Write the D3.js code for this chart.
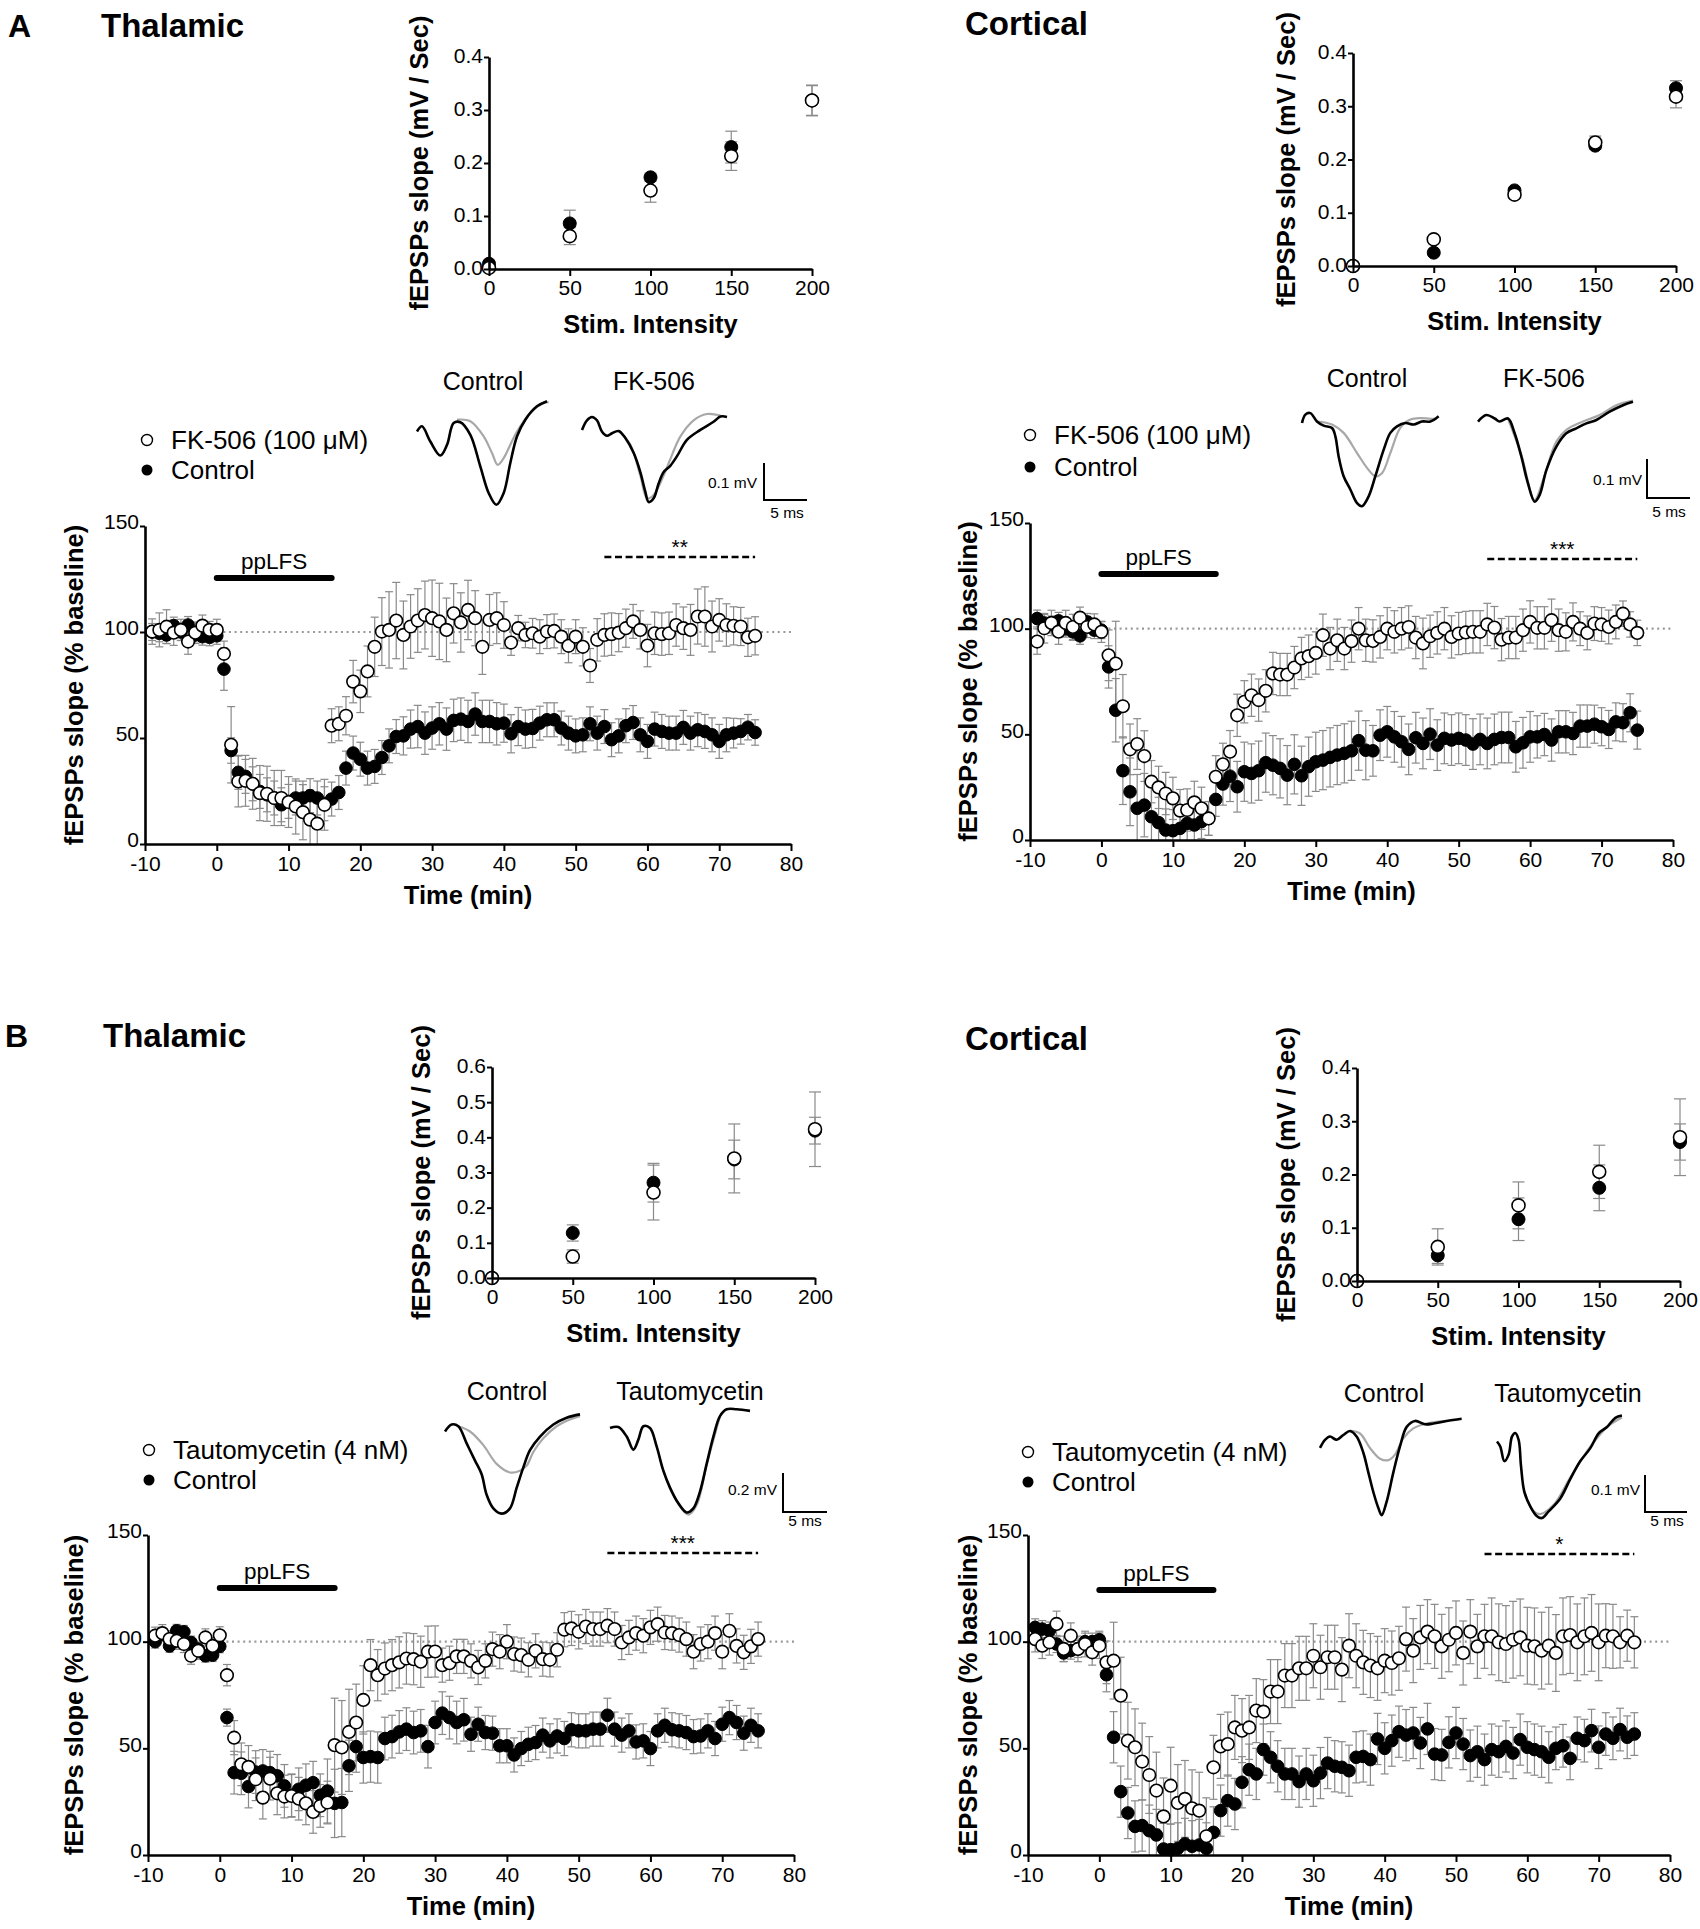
<!DOCTYPE html>
<html><head><meta charset="utf-8">
<script src="https://cdn.jsdelivr.net/npm/d3@7"></script>
<style>body{margin:0;background:#fff} svg{display:block} text{font-family:"Liberation Sans",Arial,Helvetica,sans-serif}</style>
</head><body><svg id="c" width="1700" height="1929"></svg>
<script>
// ---------- DATA ----------
const minutes = [-9,-8,-7,-6,-5,-4,-3,-2,-1,0,1,2,3,4,5,6,7,8,9,10,11,12,13,14,15,16,17,18,19,20,21,22,23,24,25,26,27,28,29,30,31,32,33,34,35,36,37,38,39,40,41,42,43,44,45,46,47,48,49,50,51,52,53,54,55,56,57,58,59,60,61,62,63,64,65,66,67,68,69,70,71,72,73,74,75];
const timeTicks = [-10,0,10,20,30,40,50,60,70,80];
const pctTicks = [0,50,100,150];
const intensities = [0,50,100,150,200];

// A thalamic (FK-506)
const aThalDrug = [100.2,101,102.5,99.7,101,95.5,99.7,103,101,101,
 89.7,46.8,29.5,29.8,28.4,24,23.7,21.7,21.7,19.8,17.7,15,11.5,9.6,18.5,
 55.8,56.7,60.5,76.6,72,81.4,93,100.2,101,105.4,98.6,102.6,105.4,108,106.5,105,101,108.8,104.5,110.4,106.5,93,105.7,106.5,103.3,
 95,101.8,98.6,99.4,97.8,100.2,100.5,97.8,93.5,97.8,93,84.2,96.3,98.6,99,99.7,101.8,105,101,93.6,99.4,99,99.4,103.3,101.8,101,107.3,107.3,102.6,105.7,103.3,102.9,102.6,97.5,98.2];
const aThalDrugSem = [6,8,8,6,5,6,5,5,4,5, 6,18,12,12,12,13,13,13,13,12,13,13,14,14,12,
 8,8,9,10,10,12,14,16,18,18,16,15,15,16,18,18,15,14,14,14,13,13,12,12,11,
 6,6,6,7,8,8,8,8,8,8,9,8,10,10,10,9,9,8,9,10,10,10,10,10,10,12,13,14,12,10,10,9,9,9,9];
const aThalCtrl = [100,99.4,98.6,103,100,103.3,98.6,97.8,97.5,98.2,
 82.5,44.1,33.8,31.9,28.4,24.8,23.2,21.7,18.5,20.1,21.7,21.7,22.8,21.7,19,
 21.2,24.3,35.8,42.9,40,35.8,36.6,40.8,46.3,50.7,51,54.2,55.4,52.3,54.7,56.7,54.2,58.3,58.9,57.8,61.3,57.8,57.8,56.7,57,
 52,55.4,54.2,54.5,57,58.6,58.6,54.7,52.3,51,51.5,56.7,52.3,55.4,49.2,51,55.8,57.3,51.5,48.4,54.2,53.1,52.3,52.3,55,52.3,53.9,53.1,51.5,48.4,51.5,52.3,53.1,55.1,52.6];
const aThalCtrlSem = [4,4,4,4,4,4,4,4,4,4, 10,6,8,8,8,8,8,8,8,8,8,8,8,8,8,
 8,8,8,8,8,8,8,8,8,8,9,9,10,10,10,10,10,10,10,10,10,10,10,10,9,
 9,9,9,9,8,8,8,8,8,8,8,8,8,8,8,8,8,8,8,8,8,8,8,8,8,8,8,8,8,8,8,7,6,6,6];

// A cortical (FK-506)
const aCortDrug = [93.9,100.2,102.7,98.6,102.7,100.8,105.2,100.8,102,98.5,
 87.4,83.5,63.3,42.9,45.4,39.7,27.6,24.9,22,19.7,13.9,14.2,17.8,15,10.2,
 29.9,35.8,41.8,59,65.4,68.5,66.2,70.6,78.8,78.3,78.3,81.6,85.9,87,88.5,96.9,90.6,94.5,90.6,94.1,100,94.5,94.2,96.1,100,
 98.5,100,100.8,95.8,93,96.4,98,100,96.1,97.7,98.2,98.5,98.5,102,100.5,94.8,95.8,95.8,99.3,103.2,100.4,100.4,104,99.3,98.5,103.2,100,98,102.4,102,100.8,103.2,107.1,102,98];
const aCortDrugSem = [6,7,6,6,6,6,5,5,5,5, 12,20,15,12,12,12,10,10,10,10,10,10,10,10,8,
 10,10,10,10,10,10,10,10,10,10,10,10,10,10,10,10,10,10,10,10,10,10,10,10,10,
 10,10,10,10,12,10,10,10,10,10,10,10,10,10,10,10,10,10,10,10,10,10,10,10,9,9,8,8,8,8,8,8,6,6,6];
const aCortCtrl = [104.8,102.7,102,103.7,100,98.5,96.6,103.2,99.3,99.3,
 81.9,61.4,32.8,22.8,15,16.5,11,8.2,4.7,4.4,5.5,7.9,7.1,8.7,10.2,
 19.2,26.5,30.2,25.2,32.3,31.5,32.8,36.6,35.4,33.9,30.7,35.8,30.4,34.7,37,37.8,39.1,40.2,41,42.2,47,42.5,42.2,49.6,51.2,
 48.8,46.5,42.9,48.4,45.7,50.1,44.9,48.1,47.3,48.1,47.3,45.4,47.6,45.7,47.6,48.5,48.5,44.1,46,48.8,48.8,49.9,47.3,51.2,51.2,50.4,53.9,53.9,54.8,53.6,52.3,55.9,55.5,60.2,52];
const aCortCtrlSem = [4,4,4,4,4,4,4,4,4,4, 10,15,16,16,16,15,14,12,10,10,8,8,8,8,8,
 8,10,12,12,14,14,14,14,14,14,14,14,14,14,14,14,14,14,14,14,14,14,12,12,12,
 12,12,12,12,12,12,12,12,12,12,12,12,12,12,12,12,12,12,12,12,10,10,10,10,10,10,10,10,9,9,9,9,9,9,9];

// B thalamic (Tautomycetin)
const bThalDrug = [102.8,104,101.2,100.4,98.9,93.4,95.7,102,98,103,
 84.3,55,42.5,41.3,35.5,26.9,35.8,28.9,27.4,27.7,26.4,24.2,20.2,23,24.6,
 51.5,50.4,57.7,62.1,72.7,89,84.3,87.4,89,90.3,92.1,91.8,90.6,95.3,95.4,89,89.9,93.1,93.1,91,87.9,91,96.5,95.3,100,
 94.2,93.7,91.5,95.7,91.8,91.5,96.2,105.6,106.2,104.6,107.1,105.9,105.9,107.5,105.9,99.6,102,104,102.8,106.7,108.2,104.3,104,103.1,101.2,95.3,98.9,100,104,95.3,105.1,98,95,97.8,101.2];
const bThalDrugSem = [4,4,4,4,4,4,4,4,4,4, 5,8,10,10,10,10,10,10,10,10,10,10,10,10,10,
 22,22,20,18,16,12,12,12,12,12,12,12,12,12,12,8,8,8,8,8,8,8,8,8,8,
 8,8,8,8,8,8,8,8,8,8,8,8,8,8,8,8,8,8,8,8,8,8,8,8,8,8,8,8,8,8,8,8,8,8,8];
const bThalCtrl = [100,103.5,98,105.1,104.6,99.6,96.5,93.4,93.7,97.8,
 64.4,38.6,38.3,32.1,38.9,39.4,38.6,37.1,32.4,28,30.8,32.7,33.9,28,30,
 24.2,24.6,41.8,50.8,45.7,46.1,45.7,54.6,55.5,57.7,59,57.4,58.2,50.8,62.1,66.5,64.4,62.1,63.4,56.6,61.3,57.4,57.1,51.2,51.2,
 46.9,49.9,51.9,52.7,56.2,53.5,55.8,54.6,58.7,58.2,58.2,59,59,65.5,59,56.2,58.2,53,53.5,49.9,58.2,60.8,58.7,58.2,57.4,55.5,55.8,58.2,54.6,61.3,64.4,62.1,57.1,60.8,58.2];
const bThalCtrlSem = [3,3,3,3,3,3,3,3,3,3, 4,10,10,10,10,10,10,10,10,10,10,10,10,10,15,
 16,16,12,12,12,12,12,10,10,10,10,10,10,10,10,10,10,10,10,8,8,8,8,8,8,
 8,8,8,8,8,8,8,8,8,8,8,8,8,8,8,8,8,8,8,8,8,8,8,8,8,8,8,8,8,8,8,8,8,8,8];

// B cortical (Tautomycetin)
const bCortDrug = [101.2,98.1,99.7,108.3,96.6,102.8,96.6,98.9,95,98.1,
 90.3,91.1,74.7,53.6,50.5,43.8,37.5,30.2,18.1,32.5,24.4,26.3,21.9,20.8,8.8,
 41.1,50.9,52,59.8,58.3,59.8,67.7,67.2,76.6,76.6,84.1,84.1,87.5,87.5,93.4,88,92.7,92.7,86.9,98.1,93.4,90.3,88.8,87.5,91.1,
 90,92.2,101.2,95.8,102,104.7,102.5,97.8,100.9,104.1,94.7,104.7,97.8,102.5,102.5,99.7,98.9,100.9,102,98.1,97.8,95.8,98.1,94.7,102.5,103.1,99.7,102.5,104.1,99.7,102.8,102.5,99.7,102.8,99.7];
const bCortDrugSem = [6,6,6,6,6,6,6,6,6,6, 10,18,18,18,18,18,18,18,18,18,18,18,18,18,18,
 15,15,15,15,15,15,15,15,15,15,15,15,15,15,15,15,15,15,15,15,15,15,15,15,15,
 15,15,15,15,15,15,15,15,15,15,15,15,15,15,18,18,18,18,18,18,18,18,18,18,18,18,18,18,18,18,15,15,12,12,12];
const bCortCtrl = [106.7,105.9,105.2,98.9,94.7,95.8,96.6,100,100,100.9,
 84.5,55.2,29.7,19.7,13.4,13.8,11.4,9.4,2.8,2.5,3.1,5.2,4.1,4.7,3.1,
 10.6,20.8,25.5,23.9,34.1,40,38,49.4,45.8,41.6,38,38,34.4,38,34.8,38.4,43.1,41.6,41.1,39.5,45.8,46.2,44.7,54.4,50,
 53.6,57.8,56.2,57.2,52.5,59.1,47.3,46.9,52.8,57.2,52,46.6,48.4,44.7,49.4,48.4,50.9,47.8,54.1,50.5,49.4,48.4,45.8,50,51.2,45.3,54.7,53.6,58.3,50.5,56.7,54.7,58.8,55.2,56.7];
const bCortCtrlSem = [4,4,4,4,4,4,4,4,4,4, 8,12,12,12,12,12,12,12,12,12,12,12,12,12,12,
 12,12,12,12,12,12,12,12,12,12,12,12,12,12,12,12,12,12,12,12,12,12,12,12,12,
 12,12,12,12,12,12,12,12,12,12,12,12,12,12,12,12,12,12,12,12,12,12,12,10,10,10,10,10,10,10,10,10,10,10,10];

// Input-output curves (mV / Sec)
const ioAThalCtrl = [0.01,0.086,0.173,0.230,0.318], ioAThalCtrlSem = [0,0.025,0.008,0.03,0.028];
const ioAThalDrug = [0.002,0.062,0.148,0.213,0.318], ioAThalDrugSem = [0,0.016,0.022,0.027,0.029];
const ioACortCtrl = [0.0,0.025,0.142,0.226,0.334], ioACortCtrlSem = [0,0.004,0.005,0.006,0.014];
const ioACortDrug = [0.0,0.05,0.134,0.232,0.318], ioACortDrugSem = [0,0.004,0.005,0.012,0.021];
const ioBThalCtrl = [0.0,0.128,0.271,0.337,0.419], ioBThalCtrlSem = [0,0.023,0.055,0.055,0.038];
const ioBThalDrug = [0.0,0.061,0.243,0.340,0.423], ioBThalDrugSem = [0,0.019,0.078,0.098,0.106];
const ioBCortCtrl = [0.0,0.048,0.116,0.175,0.261], ioBCortCtrlSem = [0,0.015,0.04,0.043,0.034];
const ioBCortDrug = [0.0,0.064,0.142,0.205,0.270], ioBCortDrugSem = [0,0.034,0.044,0.05,0.072];
const ioTicks04 = [0,0.1,0.2,0.3,0.4];
const ioTicks06 = [0,0.1,0.2,0.3,0.4,0.5,0.6];

// Example fEPSP traces: [ms, mV] relative to trace start / baseline
const trAThalCtrlBlack = [[0,-0.023],[0.58,-0.009],[1.55,-0.05],[2.71,-0.088],[3.49,-0.059],[4.26,0],[5.04,0.002],[6.2,-0.032],[7.36,-0.117],[8.33,-0.189],[9.22,-0.221],[10.08,-0.189],[10.85,-0.108],[11.63,-0.036],[12.6,0.009],[13.95,0.045],[15.12,0.059]];
const trAThalCtrlGray = [[4.65,0.009],[6.2,0.005],[7.75,-0.036],[8.72,-0.081],[9.38,-0.113],[10.08,-0.095],[10.85,-0.059],[11.63,-0.023],[13.18,0.027],[14.73,0.054],[15.31,0.056]];
const trAThalDrugBlack = [[0,0.003],[0.58,0.029],[1.16,0.038],[1.74,0.029],[2.33,-0.002],[2.91,-0.013],[3.49,-0.006],[4.26,0],[5.04,-0.019],[6.0,-0.059],[6.78,-0.111],[7.36,-0.164],[7.75,-0.192],[8.33,-0.182],[8.91,-0.142],[9.5,-0.111],[10.27,-0.094],[11.05,-0.068],[12.2,-0.024],[13.76,0.003],[15.3,0.025],[16.1,0.039],[16.86,0.038]];
const trAThalDrugGray = [[4.26,0],[5.62,-0.037],[6.78,-0.12],[7.56,-0.182],[8.33,-0.173],[9.5,-0.12],[10.27,-0.076],[11.43,-0.015],[12.98,0.029],[14.53,0.046],[16.1,0.042]];
const trACortCtrlBlack = [[0,0],[0.39,0.022],[0.97,0.026],[1.74,0.004],[2.52,-0.007],[3.49,-0.013],[3.88,-0.035],[4.26,-0.088],[4.84,-0.14],[5.62,-0.175],[6.4,-0.211],[6.98,-0.219],[7.75,-0.193],[8.53,-0.14],[9.5,-0.07],[10.27,-0.026],[11.05,-0.009],[12.02,0],[12.98,-0.004],[13.95,0.004],[14.92,0.004],[15.89,0.018]];
const trACortCtrlGray = [[1.74,0.004],[3.49,-0.004],[4.84,-0.026],[6.4,-0.079],[7.56,-0.118],[8.53,-0.14],[9.3,-0.132],[10.27,-0.079],[11.43,-0.013],[12.6,0.009],[13.76,0.013],[14.92,0.011],[15.7,0.011]];
const trACortDrugBlack = [[0,-0.004],[0.97,0.013],[1.94,0.004],[2.52,-0.004],[3.49,0.004],[4.26,-0.035],[5.04,-0.096],[5.81,-0.167],[6.59,-0.215],[7.17,-0.197],[7.95,-0.132],[9.11,-0.07],[10.27,-0.035],[11.43,-0.022],[12.6,-0.009],[13.76,0],[15.31,0.022],[16.86,0.039],[18.02,0.048]];
const trACortDrugGray = [[3.49,0.004],[5.04,-0.092],[6.59,-0.211],[7.56,-0.158],[9.11,-0.057],[10.27,-0.026],[12.21,-0.004],[14.15,0.013],[16.09,0.039],[18.02,0.051]];
const trBThalCtrlBlack = [[0,-0.018],[0.78,0.018],[1.55,0.009],[2.52,-0.079],[3.49,-0.167],[4.26,-0.237],[4.84,-0.342],[5.62,-0.412],[6.59,-0.439],[7.56,-0.412],[8.33,-0.307],[9.11,-0.202],[9.88,-0.114],[11.05,-0.044],[12.6,0.018],[14.15,0.053],[15.7,0.07]];
const trBThalCtrlGray = [[1.55,0.009],[2.91,-0.018],[4.46,-0.088],[6.0,-0.184],[7.56,-0.228],[8.72,-0.219],[9.5,-0.193],[10.27,-0.123],[11.43,-0.053],[12.98,0.009],[14.53,0.044],[15.7,0.061]];
const trBThalDrugBlack = [[0,0],[0.97,0.005],[1.94,-0.044],[2.71,-0.111],[3.29,-0.061],[3.88,0.009],[4.65,0],[5.43,-0.096],[6.2,-0.219],[6.98,-0.307],[7.95,-0.386],[8.91,-0.433],[9.69,-0.412],[10.47,-0.325],[11.24,-0.184],[12.02,-0.044],[12.79,0.061],[13.57,0.096],[14.73,0.096],[16.28,0.088]];
const trBThalDrugGray = [[6.2,-0.219],[7.95,-0.39],[9.11,-0.444],[10.08,-0.395],[11.24,-0.188],[12.79,0.061]];
const trBCortCtrlBlack = [[0,-0.035],[0.58,-0.013],[1.16,-0.004],[1.94,-0.013],[2.71,0],[3.49,0.011],[4.26,-0.004],[5.04,-0.048],[5.62,-0.101],[6.2,-0.154],[6.78,-0.197],[7.17,-0.217],[7.75,-0.18],[8.53,-0.101],[9.3,-0.031],[10.08,0.022],[11.05,0.038],[12.21,0.029],[13.18,0.031],[14.73,0.038],[16.47,0.044]];
const trBCortCtrlGray = [[3.49,0.011],[4.65,0.004],[5.81,-0.035],[6.98,-0.064],[7.95,-0.068],[8.72,-0.053],[9.69,-0.009],[10.85,0.018],[12.4,0.031],[14.73,0.038]];
const trBCortDrugBlack = [[0,-0.004],[0.39,-0.018],[0.85,-0.057],[1.36,-0.039],[1.74,0.009],[2.13,0.019],[2.52,0],[2.79,-0.07],[3.18,-0.14],[3.88,-0.18],[4.65,-0.206],[5.23,-0.211],[6.0,-0.193],[7.36,-0.158],[8.53,-0.105],[9.69,-0.057],[10.85,-0.022],[11.82,0.018],[12.79,0.035],[13.76,0.06],[14.53,0.066]];
const trBCortDrugGray = [[3.18,-0.14],[4.26,-0.193],[5.04,-0.2],[6.59,-0.175],[8.53,-0.101],[10.85,-0.018],[12.79,0.035],[14.53,0.061]];

// ---------- DRAWING ----------
const svg = d3.select('#c');
svg.append('rect').attr('width',1700).attr('height',1929).attr('fill','#fff');
const FONT = '"Liberation Sans",Arial,Helvetica,sans-serif';
const ERR = '#8a8a8a';

function txt(x, y, s, size, opts = {}) {
  return svg.append('text').attr('x', x).attr('y', y).text(s)
    .attr('font-size', size).attr('fill', '#000')
    .attr('font-weight', opts.bold ? 'bold' : 'normal')
    .attr('text-anchor', opts.anchor || 'start');
}
function vlabel(x, yc, s, size) {
  svg.append('text').attr('transform', `translate(${x},${yc}) rotate(-90)`)
    .attr('text-anchor', 'middle').attr('dy', '0.36em').attr('font-size', size)
    .attr('font-weight', 'bold').text(s);
}
function styleAxis(g, size, dy) {
  g.select('.domain').attr('stroke', '#000').attr('stroke-width', 2.6);
  g.selectAll('.tick line').attr('stroke', '#000').attr('stroke-width', 2);
  const t = g.selectAll('.tick text').attr('font-size', size).attr('fill', '#000').attr('font-family', FONT);
  if (dy) t.attr('dy', dy);
}
function errorBars(g, xs, vals, sems, x, y, cap, floor) {
  vals.forEach((v, i) => {
    const s = sems[i] || 0;
    if (!s) return;
    const lo = Math.max(floor, v - s), hi = v + s, cx = x(xs[i]);
    g.append('line').attr('x1', cx).attr('x2', cx).attr('y1', y(lo)).attr('y2', y(hi)).attr('stroke', ERR).attr('stroke-width', 1.2);
    g.append('line').attr('x1', cx - cap).attr('x2', cx + cap).attr('y1', y(hi)).attr('y2', y(hi)).attr('stroke', ERR).attr('stroke-width', 1.2);
    if (v - s > floor) g.append('line').attr('x1', cx - cap).attr('x2', cx + cap).attr('y1', y(lo)).attr('y2', y(lo)).attr('stroke', ERR).attr('stroke-width', 1.2);
  });
}
function points(g, xs, vals, x, y, r, open) {
  g.selectAll(null).data(vals).join('circle')
    .attr('cx', (d, i) => x(xs[i])).attr('cy', d => y(d)).attr('r', r)
    .attr('fill', open ? '#fff' : '#000').attr('stroke', '#000').attr('stroke-width', open ? 1.6 : 1);
}

function timeCourse(L, ctrl, ctrlSem, drug, drugSem, stars) {
  const x = d3.scaleLinear().domain([-10, 80]).range([L.x0, L.x1]);
  const y = d3.scaleLinear().domain([0, 150]).range([L.y0, L.y1]);
  const g = svg.append('g');
  g.append('line').attr('x1', x(-10)).attr('x2', x(80)).attr('y1', y(100)).attr('y2', y(100))
    .attr('stroke', '#999').attr('stroke-width', 2.2).attr('stroke-dasharray', '2,3.6');
  errorBars(g, minutes, ctrl, ctrlSem, x, y, 4, 0);
  errorBars(g, minutes, drug, drugSem, x, y, 4, 0);
  points(g, minutes, ctrl, x, y, 6.3, false);
  points(g, minutes, drug, x, y, 6.3, true);
  const ax = svg.append('g').attr('transform', `translate(0,${L.y0})`)
    .call(d3.axisBottom(x).tickValues(timeTicks).tickFormat(d => String(d)).tickSize(7).tickSizeOuter(0).tickPadding(5));
  styleAxis(ax, 21);
  const ay = svg.append('g').attr('transform', `translate(${L.x0},0)`)
    .call(d3.axisLeft(y).tickValues(pctTicks).tickSize(5).tickSizeOuter(0).tickPadding(1));
  styleAxis(ay, 21, '0.14em');
  svg.append('line').attr('x1', x(0)).attr('x2', x(16)).attr('y1', L.ppY).attr('y2', L.ppY)
    .attr('stroke', '#000').attr('stroke-width', 6).attr('stroke-linecap', 'round');
  txt(x(8), L.ppY - 9, 'ppLFS', 22.5, { anchor: 'middle' });
  svg.append('line').attr('x1', x(54)).attr('x2', x(75)).attr('y1', L.sigY).attr('y2', L.sigY)
    .attr('stroke', '#000').attr('stroke-width', 2.5).attr('stroke-dasharray', '7,3.6');
  txt(x(64.5), L.sigY - 3, stars, 21, { anchor: 'middle' });
  vlabel(L.ylabX, (L.y0 + L.y1) / 2, 'fEPSPs slope (% baseline)', 25.5);
  txt((L.x0 + L.x1) / 2, L.y0 + 60, 'Time (min)', 25.5, { bold: true, anchor: 'middle' });
}

function ioPlot(L, ymax, ticks, ctrl, ctrlSem, drug, drugSem) {
  const x = d3.scaleLinear().domain([0, 200]).range([L.x0, L.x1]);
  const y = d3.scaleLinear().domain([0, ymax]).range([L.y0, L.y1]);
  const g = svg.append('g');
  const ax = svg.append('g').attr('transform', `translate(0,${L.y0})`)
    .call(d3.axisBottom(x).tickValues(intensities).tickSize(7).tickSizeOuter(0).tickPadding(4));
  styleAxis(ax, 21);
  const ay = svg.append('g').attr('transform', `translate(${L.x0},0)`)
    .call(d3.axisLeft(y).tickValues(ticks).tickFormat(d3.format('.1f')).tickSize(5).tickSizeOuter(0).tickPadding(1));
  styleAxis(ay, 21, '0.28em');
  errorBars(g, intensities, ctrl, ctrlSem, x, y, 6, -1);
  errorBars(g, intensities, drug, drugSem, x, y, 6, -1);
  points(g, intensities, ctrl, x, y, 6.5, false);
  points(g, intensities, drug, x, y, 6.5, true);
  vlabel(L.ylabX, (L.y0 + L.y1) / 2, 'fEPSPs slope (mV / Sec)', 25.5);
  txt((L.x0 + L.x1) / 2, L.y0 + 64, 'Stim. Intensity', 25.5, { bold: true, anchor: 'middle' });
}

function traces(sx, by, mvPx, black, gray) {
  const x = d3.scaleLinear().domain([0, 5]).range([sx, sx + 43]);
  const y = d3.scaleLinear().domain([0, 0.1]).range([by, by - mvPx]);
  const line = d3.line().x(d => x(d[0])).y(d => y(d[1])).curve(d3.curveCatmullRom.alpha(0.5));
  svg.append('path').attr('d', line(gray)).attr('fill', 'none').attr('stroke', '#a8a8a8').attr('stroke-width', 2.2);
  svg.append('path').attr('d', line(black)).attr('fill', 'none').attr('stroke', '#000').attr('stroke-width', 2.6);
}
function scaleBar(vx, vy0, vy1, hx1, mvLabel, msX, msY, mvRight, mvY) {
  svg.append('path').attr('d', `M${vx},${vy0}V${vy1}H${hx1}`).attr('fill', 'none').attr('stroke', '#000').attr('stroke-width', 2);
  txt(mvRight, mvY + 5, mvLabel, 15.5, { anchor: 'end' });
  txt(msX, msY, '5 ms', 15.5, { anchor: 'middle' });
}
function legend(cx, y1, y2, label) {
  svg.append('circle').attr('cx', cx).attr('cy', y1).attr('r', 5.5).attr('fill', '#fff').attr('stroke', '#000').attr('stroke-width', 1.4);
  txt(cx + 24, y1 + 9, label, 26);
  svg.append('circle').attr('cx', cx).attr('cy', y2).attr('r', 5.5).attr('fill', '#000');
  txt(cx + 24, y2 + 9, 'Control', 26);
}

// ----- Panel A : Thalamic -----
txt(8, 37, 'A', 32, { bold: true });
txt(101, 37, 'Thalamic', 33, { bold: true });
ioPlot({ x0: 489, x1: 812, y0: 269, y1: 57, ylabX: 419 }, 0.4, ioTicks04, ioAThalCtrl, ioAThalCtrlSem, ioAThalDrug, ioAThalDrugSem);
txt(483, 390, 'Control', 25, { anchor: 'middle' });
txt(654, 390, 'FK-506', 25, { anchor: 'middle' });
traces(417, 423, 37, trAThalCtrlBlack, trAThalCtrlGray);
traces(582, 431, 37, trAThalDrugBlack, trAThalDrugGray);
scaleBar(764, 463, 500, 807, '0.1 mV', 787, 518, 757, 483);
legend(147, 440, 470, 'FK-506 (100 \u03bcM)');
timeCourse({ x0: 145, x1: 791, y0: 844, y1: 526, ylabX: 74, ppY: 578, sigY: 557 }, aThalCtrl, aThalCtrlSem, aThalDrug, aThalDrugSem, '**');

// ----- Panel A : Cortical -----
txt(965, 35, 'Cortical', 33, { bold: true });
ioPlot({ x0: 1353, x1: 1676, y0: 266, y1: 53, ylabX: 1286 }, 0.4, ioTicks04, ioACortCtrl, ioACortCtrlSem, ioACortDrug, ioACortDrugSem);
txt(1367, 387, 'Control', 25, { anchor: 'middle' });
txt(1544, 387, 'FK-506', 25, { anchor: 'middle' });
traces(1302, 423, 38, trACortCtrlBlack, trACortCtrlGray);
traces(1478, 420, 38, trACortDrugBlack, trACortDrugGray);
scaleBar(1647, 459, 498, 1690, '0.1 mV', 1669, 517, 1642, 480);
legend(1030, 435, 467, 'FK-506 (100 \u03bcM)');
timeCourse({ x0: 1030, x1: 1673, y0: 840, y1: 523, ylabX: 968, ppY: 574, sigY: 559 }, aCortCtrl, aCortCtrlSem, aCortDrug, aCortDrugSem, '***');

// ----- Panel B : Thalamic -----
txt(5, 1047, 'B', 32, { bold: true });
txt(103, 1047, 'Thalamic', 33, { bold: true });
ioPlot({ x0: 492, x1: 815, y0: 1278, y1: 1067, ylabX: 421 }, 0.6, ioTicks06, ioBThalCtrl, ioBThalCtrlSem, ioBThalDrug, ioBThalDrugSem);
txt(507, 1400, 'Control', 25, { anchor: 'middle' });
txt(690, 1400, 'Tautomycetin', 25, { anchor: 'middle' });
traces(445, 1428, 19.5, trBThalCtrlBlack, trBThalCtrlGray);
traces(610, 1428, 19.5, trBThalDrugBlack, trBThalDrugGray);
scaleBar(783, 1473, 1512, 827, '0.2 mV', 805, 1526, 777, 1490);
legend(149, 1450, 1480, 'Tautomycetin (4 nM)');
timeCourse({ x0: 148, x1: 794, y0: 1855, y1: 1535, ylabX: 74, ppY: 1588, sigY: 1553 }, bThalCtrl, bThalCtrlSem, bThalDrug, bThalDrugSem, '***');

// ----- Panel B : Cortical -----
txt(965, 1050, 'Cortical', 33, { bold: true });
ioPlot({ x0: 1357, x1: 1680, y0: 1281, y1: 1068, ylabX: 1286 }, 0.4, ioTicks04, ioBCortCtrl, ioBCortCtrlSem, ioBCortDrug, ioBCortDrugSem);
txt(1384, 1402, 'Control', 25, { anchor: 'middle' });
txt(1568, 1402, 'Tautomycetin', 25, { anchor: 'middle' });
traces(1320, 1435, 37, trBCortCtrlBlack, trBCortCtrlGray);
traces(1497, 1440, 37, trBCortDrugBlack, trBCortDrugGray);
scaleBar(1645, 1475, 1512, 1687, '0.1 mV', 1667, 1526, 1640, 1490);
legend(1028, 1452, 1482, 'Tautomycetin (4 nM)');
timeCourse({ x0: 1028, x1: 1670, y0: 1855, y1: 1535, ylabX: 968, ppY: 1590, sigY: 1554 }, bCortCtrl, bCortCtrlSem, bCortDrug, bCortDrugSem, '*');
</script></body></html>
